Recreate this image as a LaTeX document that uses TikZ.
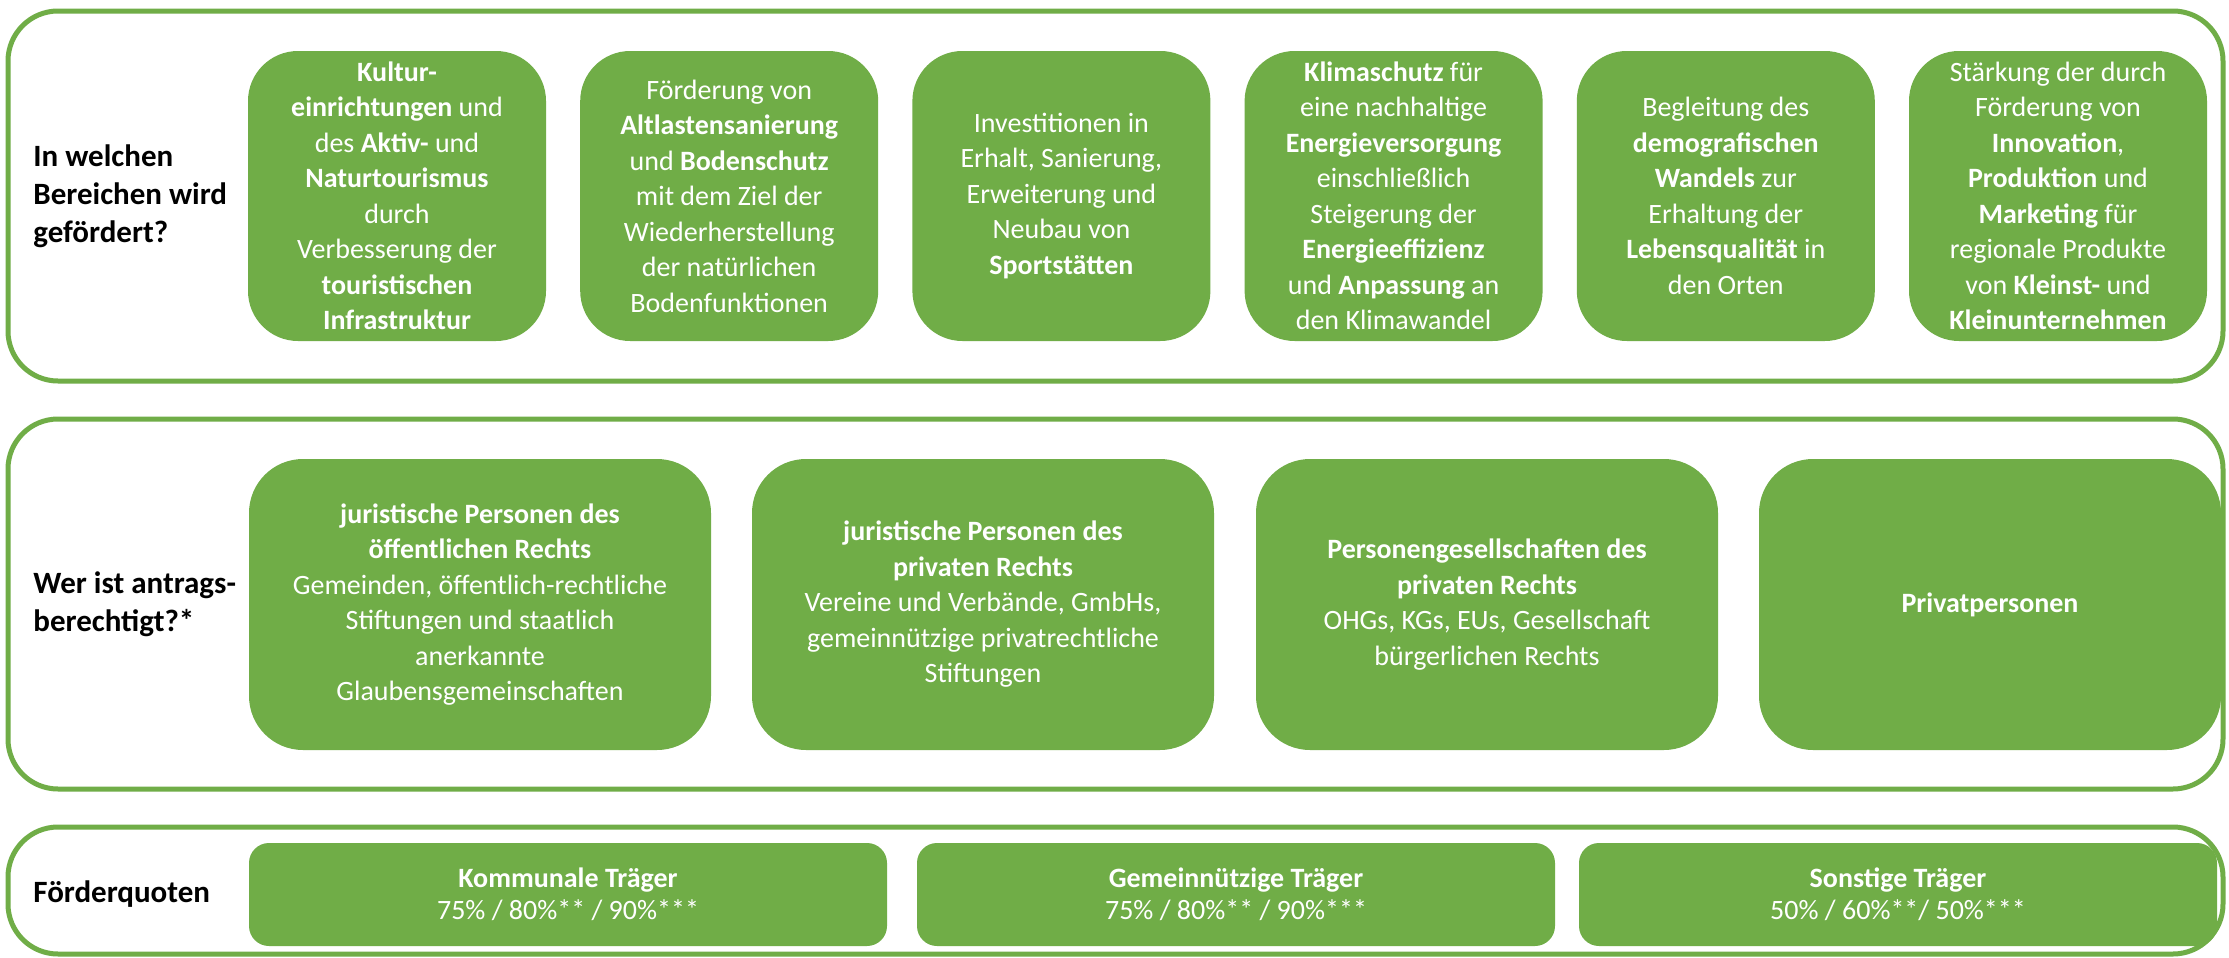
\documentclass[tikz,border=0pt]{standalone}
\usepackage{fontspec}
\setmainfont{Carlito}
\definecolor{gr}{HTML}{70AD47}
\begin{document}
\begin{tikzpicture}[x=0.5pt,y=-0.5pt,
  outerbox/.style={draw=gr, line width=2.5pt, rounded corners=25pt, inner sep=0pt, minimum width=1107.5pt},
  greenbox/.style={fill=gr, draw=none, text=white, inner sep=0pt, align=center, font=\fontsize{14pt}{17.75pt}\selectfont},
  rowonebox/.style={greenbox, rounded corners=25pt, minimum width=149pt, minimum height=145pt},
  rowtwobox/.style={greenbox, rounded corners=27pt, minimum width=231pt, minimum height=145.5pt},
  rowthreebox/.style={greenbox, rounded corners=10pt, minimum width=319pt, minimum height=51.5pt, font=\fontsize{14pt}{16pt}\selectfont},
  rowlabel/.style={anchor=west, align=left, inner sep=0pt, font=\fontsize{15.5pt}{19pt}\selectfont\bfseries}]
\fill[white] (0,0) rectangle (2229,958);
\useasboundingbox (0,0) rectangle (2229,958);
% outer frames
\node[outerbox, minimum height=185pt] (o1) at (1115.5,196) {};
\node[outerbox, minimum height=185pt] (o2) at (1115.5,604) {};
\node[outerbox, minimum height=63.5pt] (o3) at (1115.5,890.5) {};
% row labels
\node[rowlabel] (l1) at (33,196) {In welchen\\Bereichen wird\\gefördert?};
\node[rowlabel] (l2) at (33,604.5) {Wer ist antrags-\\berechtigt?*};
\node[rowlabel] (l3) at (33,894.5) {Förderquoten};
% row 1
\node[rowonebox] (a1) at (397,196) {\textbf{Kultur-}\\\textbf{einrichtungen} und\\des \textbf{Aktiv-} und\\\textbf{Naturtourismus}\\durch\\Verbesserung der\\\textbf{touristischen}\\\textbf{Infrastruktur}};
\node[rowonebox] (a2) at (729.2,196) {Förderung von\\\textbf{Altlastensanierung}\\und \textbf{Bodenschutz}\\mit dem Ziel der\\Wiederherstellung\\der natürlichen\\Bodenfunktionen};
\node[rowonebox] (a3) at (1061.4,196) {Investitionen in\\Erhalt, Sanierung,\\Erweiterung und\\Neubau von\\\textbf{Sportstätten}};
\node[rowonebox] (a4) at (1393.6,196) {\textbf{Klimaschutz} für\\eine nachhaltige\\\textbf{Energieversorgung}\\einschließlich\\Steigerung der\\\textbf{Energieeffizienz}\\und \textbf{Anpassung} an\\den Klimawandel};
\node[rowonebox] (a5) at (1725.8,196) {Begleitung des\\\textbf{demografischen}\\\textbf{Wandels} zur\\Erhaltung der\\\textbf{Lebensqualität} in\\den Orten};
\node[rowonebox] (a6) at (2058,196) {Stärkung der durch\\Förderung von\\\textbf{Innovation},\\\textbf{Produktion} und\\\textbf{Marketing} für\\regionale Produkte\\von \textbf{Kleinst-} und\\\textbf{Kleinunternehmen}};
% row 2
\node[rowtwobox] (b1) at (480,604.5) {\textbf{juristische Personen des}\\\textbf{öffentlichen Rechts}\\Gemeinden, öffentlich-rechtliche\\Stiftungen und staatlich\\anerkannte\\Glaubensgemeinschaften};
\node[rowtwobox] (b2) at (983,604.5) {\textbf{juristische Personen des}\\\textbf{privaten Rechts}\\Vereine und Verbände, GmbHs,\\gemeinnützige privatrechtliche\\Stiftungen};
\node[rowtwobox] (b3) at (1487,604.5) {\textbf{Personengesellschaften des}\\\textbf{privaten Rechts}\\OHGs, KGs, EUs, Gesellschaft\\bürgerlichen Rechts};
\node[rowtwobox] (b4) at (1990,604.5) {\textbf{Privatpersonen}};
% row 3
\node[rowthreebox] (c1) at (568,894.5) {\textbf{Kommunale Träger}\\75\% / 80\%** / 90\%***};
\node[rowthreebox] (c2) at (1236,894.5) {\textbf{Gemeinnützige Träger}\\75\% / 80\%** / 90\%***};
\node[rowthreebox] (c3) at (1898,894.5) {\textbf{Sonstige Träger}\\50\% / 60\%**/ 50\%***};
\end{tikzpicture}
\end{document}
